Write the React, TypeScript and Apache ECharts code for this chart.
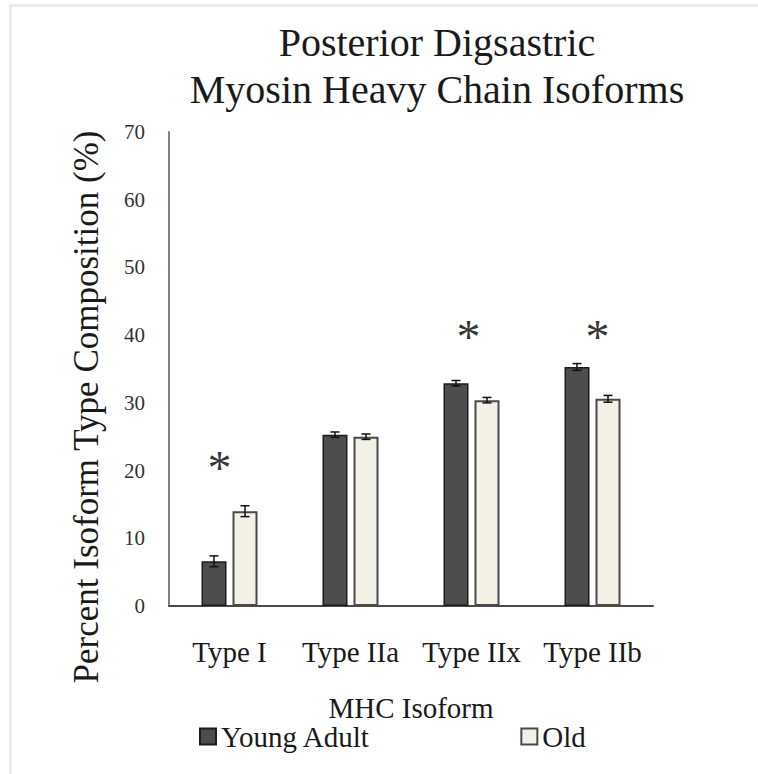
import React, { useEffect, useRef } from "react";
import * as echarts from "echarts";

const categories = ["Type I", "Type IIa", "Type IIx", "Type IIb"];
const youngValues = [6.6, 25.3, 32.9, 35.3];
const youngErrors = [0.8, 0.4, 0.4, 0.5];
const oldValues = [14.0, 25.0, 30.4, 30.6];
const oldErrors = [0.8, 0.4, 0.4, 0.5];
const yTicks = [0, 10, 20, 30, 40, 50, 60, 70];
const asteriskCats = [0, 2, 3];
const asteriskY = [20.5, 39.8, 39.8];
const asteriskShift = [-10, -3, 5];

const FONT = "Liberation Serif";
const BAR_W = 25;
const BAR_GAP = 6;
const OFFSET = (BAR_W + BAR_GAP) / 2;

function errorSeries(values: number[], errors: number[], dx: number) {
  return {
    type: "custom",
    silent: true,
    z: 10,
    data: values.map((v, i) => [i, v, errors[i]]),
    renderItem: (params: any, api: any) => {
      const ci = api.value(0);
      const v = api.value(1);
      const e = api.value(2);
      const hi = api.coord([ci, v + e]);
      const lo = api.coord([ci, v - e]);
      const x = hi[0] + dx;
      const cap = 4.5;
      const style = { stroke: "#111", lineWidth: 1.5 };
      return {
        type: "group",
        children: [
          { type: "line", shape: { x1: x, y1: hi[1], x2: x, y2: lo[1] }, style },
          { type: "line", shape: { x1: x - cap, y1: hi[1], x2: x + cap, y2: hi[1] }, style },
          { type: "line", shape: { x1: x - cap, y1: lo[1], x2: x + cap, y2: lo[1] }, style },
        ],
      };
    },
  };
}

export default function App() {
  const ref = useRef<HTMLDivElement>(null);
  useEffect(() => {
    if (!ref.current) return;
    const chart = echarts.init(ref.current, null, { renderer: "svg" });
    chart.setOption({
      animation: false,
      backgroundColor: "#ffffff",
      textStyle: { fontFamily: FONT },
      title: {
        text: "Posterior Digsastric\nMyosin Heavy Chain Isoforms",
        left: 432,
        textAlign: "center",
        top: 14,
        textStyle: {
          fontFamily: FONT,
          fontSize: 40,
          fontWeight: "normal",
          color: "#1a1a1a",
          lineHeight: 47,
        },
      },
      graphic: [
        { type: "rect", shape: { x: 9, y: 4, width: 749, height: 3 }, style: { fill: "#ebebeb" } },
        { type: "rect", shape: { x: 9, y: 4, width: 3, height: 770 }, style: { fill: "#ebebeb" } },
        {
          type: "text",
          x: 86,
          y: 407,
          rotation: Math.PI / 2,
          style: {
            text: "Percent Isoform Type Composition (%)",
            fontFamily: FONT,
            fontSize: 35,
            fill: "#1a1a1a",
            align: "center",
            verticalAlign: "middle",
          },
        },
      ],
      legend: {
        left: 194,
        top: 717,
        itemWidth: 16,
        itemHeight: 16,
        itemGap: 150,
        icon: "rect",
        data: ["Young Adult", "Old"],
        textStyle: { fontFamily: FONT, fontSize: 29, color: "#1a1a1a" },
      },
      grid: { left: 169, right: 105, top: 132, bottom: 168 },
      xAxis: {
        type: "category",
        data: categories,
        name: "MHC Isoform",
        nameLocation: "middle",
        nameGap: 87,
        nameTextStyle: { fontFamily: FONT, fontSize: 29, color: "#1a1a1a" },
        axisLine: { lineStyle: { color: "#4a4a4a", width: 2 } },
        axisTick: { show: false },
        axisLabel: {
          interval: 0,
          hideOverlap: false,
          fontFamily: FONT,
          fontSize: 29,
          color: "#1a1a1a",
          margin: 31,
        },
      },
      yAxis: {
        type: "value",
        min: yTicks[0],
        max: yTicks[yTicks.length - 1],
        interval: 10,
        axisLine: { show: true, lineStyle: { color: "#808080", width: 2 } },
        axisTick: { show: false },
        splitLine: { show: false },
        axisLabel: {
          fontFamily: FONT,
          fontSize: 21,
          color: "#333",
          margin: 24,
        },
      },
      series: [
        {
          name: "Young Adult",
          type: "bar",
          data: youngValues,
          barWidth: BAR_W,
          barGap: `${(BAR_GAP / BAR_W) * 100}%`,
          itemStyle: { color: "#4d4d4d", borderColor: "#1c1c1c", borderWidth: 1.5 },
        },
        {
          name: "Old",
          type: "bar",
          data: oldValues,
          barWidth: BAR_W,
          itemStyle: { color: "#f3f0e6", borderColor: "#4a4a4a", borderWidth: 2 },
        },
        errorSeries(youngValues, youngErrors, -OFFSET),
        errorSeries(oldValues, oldErrors, OFFSET),
        {
          type: "scatter",
          silent: true,
          symbolSize: 0,
          z: 11,
          data: asteriskCats.map((c, i) => ({
            value: [c, asteriskY[i]],
            label: { offset: [asteriskShift[i], 0] },
          })),
          label: {
            show: true,
            position: "inside",
            formatter: "*",
            fontFamily: FONT,
            fontSize: 48,
            color: "#000",
            verticalAlign: "middle",
            align: "center",
          },
        },
      ],
    });
    return () => chart.dispose();
  }, []);
  return (
    <div
      ref={ref}
      style={{ position: "fixed", left: 0, top: 0, width: 758, height: 774 }}
    />
  );
}
